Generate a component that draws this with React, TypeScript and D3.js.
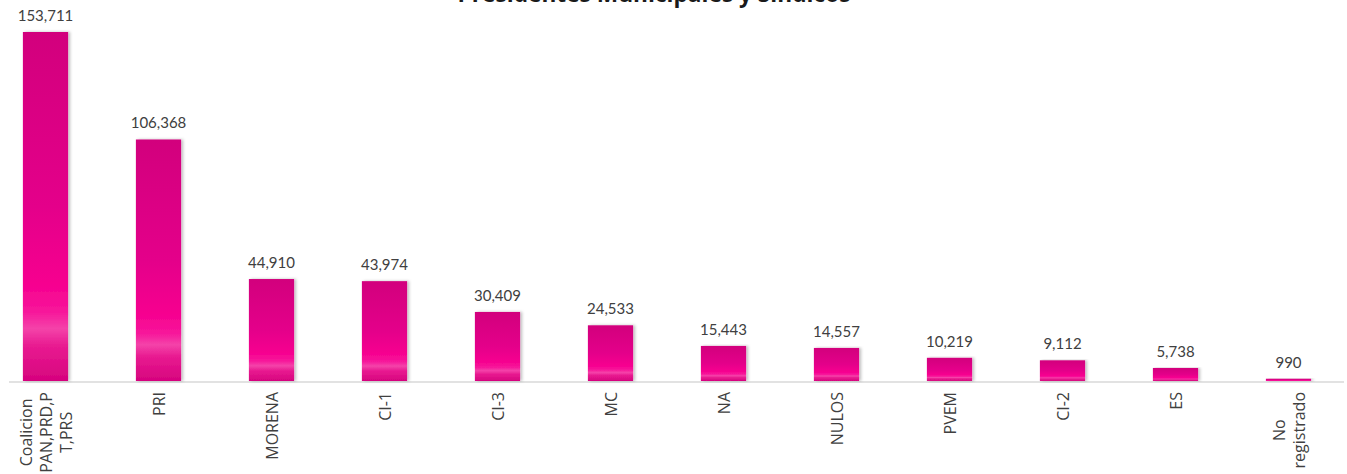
import * as d3 from 'd3';
import React, { useEffect, useRef } from 'react';

const categories = [
  'Coalicion PAN,PRD,PT,PRS', 'PRI', 'MORENA', 'CI-1', 'CI-3', 'MC',
  'NA', 'NULOS', 'PVEM', 'CI-2', 'ES', 'No registrado',
];
const labelLines = [
  ['Coalicion', 'PAN,PRD,P', 'T,PRS'], ['PRI'], ['MORENA'], ['CI-1'], ['CI-3'], ['MC'],
  ['NA'], ['NULOS'], ['PVEM'], ['CI-2'], ['ES'], ['No', 'registrado'],
];
const votes = [153711, 106368, 44910, 43974, 30409, 24533, 15443, 14557, 10219, 9112, 5738, 990];
const title = 'Presidentes Municipales y Síndicos';

const W = 1347;
const H = 474;
const FONT = "'Lato', 'Open Sans', sans-serif";
const CAT_FONT = "'Open Sans', 'DejaVu Sans', sans-serif";

function App() {
  const ref = useRef<SVGSVGElement>(null);

  useEffect(() => {
    const svg = d3.select(ref.current);
    svg.selectAll('*').remove();

    const baseY = 381;
    const x = d3.scaleBand().domain(categories).range([-11, 1345]).paddingInner(0.6).paddingOuter(0.3);
    const y = d3.scaleLinear().domain([0, 153711]).range([baseY, 32]);

    const defs = svg.append('defs');
    const grad = defs.append('linearGradient')
      .attr('id', 'barGrad').attr('x1', 0).attr('y1', 0).attr('x2', 0).attr('y2', 1);
    [
      [0, '#d2007d'], [0.5, '#e4008a'], [0.72, '#f6008f'], [0.8, '#f7159a'],
      [0.85, '#f443a9'], [0.9, '#e81a90'], [1, '#d6037e'],
    ].forEach(([o, c]) => grad.append('stop').attr('offset', o as number).attr('stop-color', c as string));

    const f = defs.append('filter').attr('id', 'shadow')
      .attr('x', '-20%').attr('y', '-5%').attr('width', '140%').attr('height', '110%');
    f.append('feDropShadow').attr('dx', 2).attr('dy', 0).attr('stdDeviation', 1.5)
      .attr('flood-color', '#000').attr('flood-opacity', 0.25);

    // title, cut off at the top edge like the source
    const t = svg.append('text')
      .attr('x', 654).attr('y', 2)
      .attr('text-anchor', 'middle')
      .attr('font-family', CAT_FONT).attr('font-weight', 'bold').attr('font-size', 20)
      .attr('fill', '#1a1a1a')
      .text(title);
    const tw = (t.node() as SVGTextElement).getComputedTextLength();
    if (tw > 0) t.attr('font-size', 20 * 393 / tw);

    svg.append('line')
      .attr('x1', 9).attr('x2', 1344).attr('y1', baseY + 1).attr('y2', baseY + 1)
      .attr('stroke', '#d9d9d9').attr('stroke-width', 1.5);

    svg.append('g').selectAll('rect')
      .data(votes)
      .join('rect')
      .attr('x', (d, i) => x(categories[i])!)
      .attr('y', d => y(d))
      .attr('width', x.bandwidth())
      .attr('height', d => baseY - y(d))
      .attr('fill', 'url(#barGrad)')
      .attr('filter', 'url(#shadow)');

    svg.append('g').selectAll('text')
      .data(votes)
      .join('text')
      .attr('x', (d, i) => x(categories[i])! + x.bandwidth() / 2)
      .attr('y', d => y(d) - 11)
      .attr('text-anchor', 'middle')
      .attr('font-family', FONT).attr('font-size', 15)
      .attr('fill', '#404040')
      .text(d => d3.format(',')(d));

    const lineH = 20;
    const lbl = svg.append('g');
    categories.forEach((c, i) => {
      const cx = x(c)! + x.bandwidth() / 2;
      const lines = labelLines[i];
      const g = lbl.append('g');
      const texts = lines.map(s =>
        g.append('text')
          .attr('text-anchor', 'middle')
          .attr('dominant-baseline', 'central')
          .attr('font-family', CAT_FONT).attr('font-size', 16)
          .attr('fill', '#404040')
          .text(s));
      const maxLen = d3.max(texts, s => (s.node() as SVGTextElement).getComputedTextLength()) || 0;
      const cy = 392 + maxLen / 2;
      texts.forEach((s, j) =>
        s.attr('transform', `translate(${cx + (j - (lines.length - 1) / 2) * lineH},${cy}) rotate(-90)`));
    });
  }, []);

  return (
    <svg ref={ref} width={W} height={H}
      style={{ position: 'absolute', left: 0, top: 0, display: 'block', background: '#fff' }} />
  );
}

export default App;
